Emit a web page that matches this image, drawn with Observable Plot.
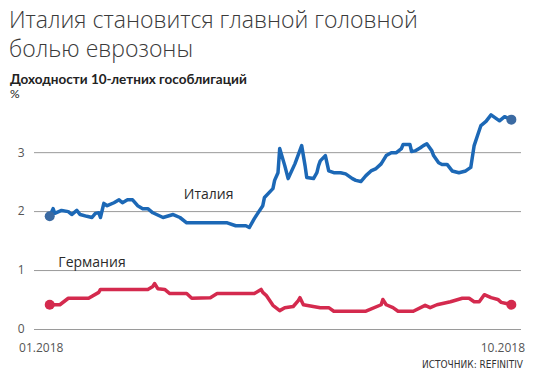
<!DOCTYPE html>
<html>
<head>
<meta charset="utf-8">
<script src="https://cdn.jsdelivr.net/npm/d3@7"></script>
<script src="https://cdn.jsdelivr.net/npm/@observablehq/plot@0.6"></script>
<style>
  html, body { margin: 0; padding: 0; background: #fff; }
  body { width: 535px; height: 380px; position: relative; overflow: hidden; font-family: "Open Sans", sans-serif; }
  #title { position: absolute; left: 9px; top: 5px; font-size: 23px; line-height: 29px; font-weight: 300; color: #3a3a3a; letter-spacing: 0px; }
  #subtitle { position: absolute; left: 10px; top: 72px; font-family: Lato, sans-serif; font-size: 13.5px; line-height: 14px; font-weight: 700; color: #222; white-space: nowrap; }
  #unit { position: absolute; left: 10px; top: 88px; font-family: Lato, sans-serif; font-size: 12px; line-height: 12px; font-weight: 400; color: #222; }
  #chart { position: absolute; left: 0; top: 100px; }
  #source { position: absolute; right: 12px; top: 359px; font-size: 10px; font-family: "Liberation Sans Narrow", "DejaVu Sans Condensed", sans-serif; font-stretch: condensed; color: #333; }
</style>
</head>
<body>
<div id="title">Италия становится главной головной<br>болью еврозоны</div>
<div id="subtitle">Доходности 10-летних гособлигаций</div>
<div id="unit">%</div>
<div id="chart"></div>
<div id="source">ИСТОЧНИК: REFINITIV</div>
<script>
// Days counted from 1 Jan 2018
const italyDays = [5,7,8,12,16,18,21,23,27,30,32,34,35,37,39,43,46,48,51,54,57,60,63,66,72,78,82,86,110,115,121,123,126,128,131,132,136,137,138,140,141,144,146,150,154,156,157,161,163,164,165,168,170,173,177,180,184,186,189,192,195,198,201,204,207,210,213,214,218,219,221,224,226,228,231,232,235,237,240,243,247,251,254,256,258,260,263,266,271,274,278];
const italyValues = [1.92,2.05,1.97,2.02,2.0,1.95,2.02,1.95,1.92,1.90,1.97,1.98,1.90,2.14,2.10,2.15,2.20,2.15,2.20,2.20,2.10,2.05,2.05,1.98,1.90,1.95,1.90,1.81,1.81,1.76,1.76,1.73,1.88,1.97,2.10,2.24,2.36,2.39,2.53,2.66,3.07,2.78,2.56,2.81,3.12,2.78,2.58,2.56,2.66,2.78,2.86,2.95,2.69,2.66,2.66,2.64,2.56,2.53,2.51,2.61,2.69,2.73,2.81,2.95,3.0,3.0,3.07,3.14,3.14,3.02,3.03,3.08,3.12,3.15,3.03,2.95,2.83,2.80,2.80,2.69,2.66,2.69,2.75,3.12,3.29,3.46,3.53,3.64,3.54,3.61,3.56];
const germanyDays = [5,11,16,28,34,35,63,66,67,69,73,76,86,89,100,104,126,130,131,133,137,141,144,149,152,153,155,165,170,173,192,201,202,204,208,211,220,227,230,234,242,249,253,256,259,262,266,270,272,275,278];
const germanyValues = [0.42,0.42,0.53,0.53,0.63,0.68,0.68,0.73,0.78,0.69,0.68,0.61,0.61,0.53,0.54,0.61,0.61,0.68,0.63,0.58,0.41,0.32,0.37,0.39,0.49,0.54,0.42,0.37,0.37,0.31,0.31,0.42,0.51,0.42,0.37,0.31,0.31,0.41,0.37,0.42,0.47,0.53,0.53,0.47,0.47,0.59,0.54,0.51,0.46,0.44,0.42];
const seriesNames = ["Италия", "Германия"];
const yTicks = [0, 1, 2, 3];
const xTickDates = ["2018-01-01", "2018-10-01"];
const xTickLabels = ["01.2018", "10.2018"];
// label anchors: [day, value]
const italyLabelPos = [99, 2.29];
const germanyLabelPos = [30, 1.14];

const base = new Date(Date.UTC(2018, 0, 1));
const toDate = d => d3.utcDay.offset(base, d);
const italy = italyDays.map((d, i) => ({date: toDate(d), value: italyValues[i]}));
const germany = germanyDays.map((d, i) => ({date: toDate(d), value: germanyValues[i]}));
const xTicks = xTickDates.map(s => new Date(s + "T00:00:00Z"));
const tickLabel = new Map(xTicks.map((d, i) => [+d, xTickLabels[i]]));

const blue = "#1c68b6", blueDot = "#3b6aa2", red = "#d42a4e";

const chart = Plot.plot({
  width: 535,
  height: 260,
  marginLeft: 34,
  marginRight: 14,
  marginTop: 5,
  marginBottom: 31,
  x: {type: "utc", domain: [toDate(-4), toDate(284)]},
  y: {domain: [0, 3.8]},
  style: {fontFamily: "Open Sans, sans-serif", fontSize: "12px", color: "#555", background: "transparent", overflow: "visible"},
  marks: [
    Plot.ruleY(yTicks, {stroke: "#9a9a9a", strokeWidth: 1}),
    Plot.axisY(yTicks, {tickSize: 0, tickPadding: 10, label: null, fill: "#555", tickFormat: d => String(d)}),
    Plot.axisX(xTicks, {tickSize: 0, tickPadding: 14, label: null, fill: "#555", tickFormat: d => tickLabel.get(+d)}),
    Plot.line(germany, {x: "date", y: "value", stroke: red, strokeWidth: 3.5, strokeLinejoin: "round", strokeLinecap: "round"}),
    Plot.line(italy, {x: "date", y: "value", stroke: blue, strokeWidth: 3.5, strokeLinejoin: "round", strokeLinecap: "round"}),
    Plot.dot([italy[0], italy[italy.length - 1]], {x: "date", y: "value", r: 5, fill: blueDot}),
    Plot.dot([germany[0], germany[germany.length - 1]], {x: "date", y: "value", r: 5, fill: red}),
    Plot.text([{date: toDate(italyLabelPos[0]), value: italyLabelPos[1], name: seriesNames[0]},
               {date: toDate(germanyLabelPos[0]), value: germanyLabelPos[1], name: seriesNames[1]}],
      {x: "date", y: "value", text: "name", fontSize: 14, fill: "#2a2a2a"})
  ]
});
document.getElementById("chart").appendChild(chart);
</script>
</body>
</html>
